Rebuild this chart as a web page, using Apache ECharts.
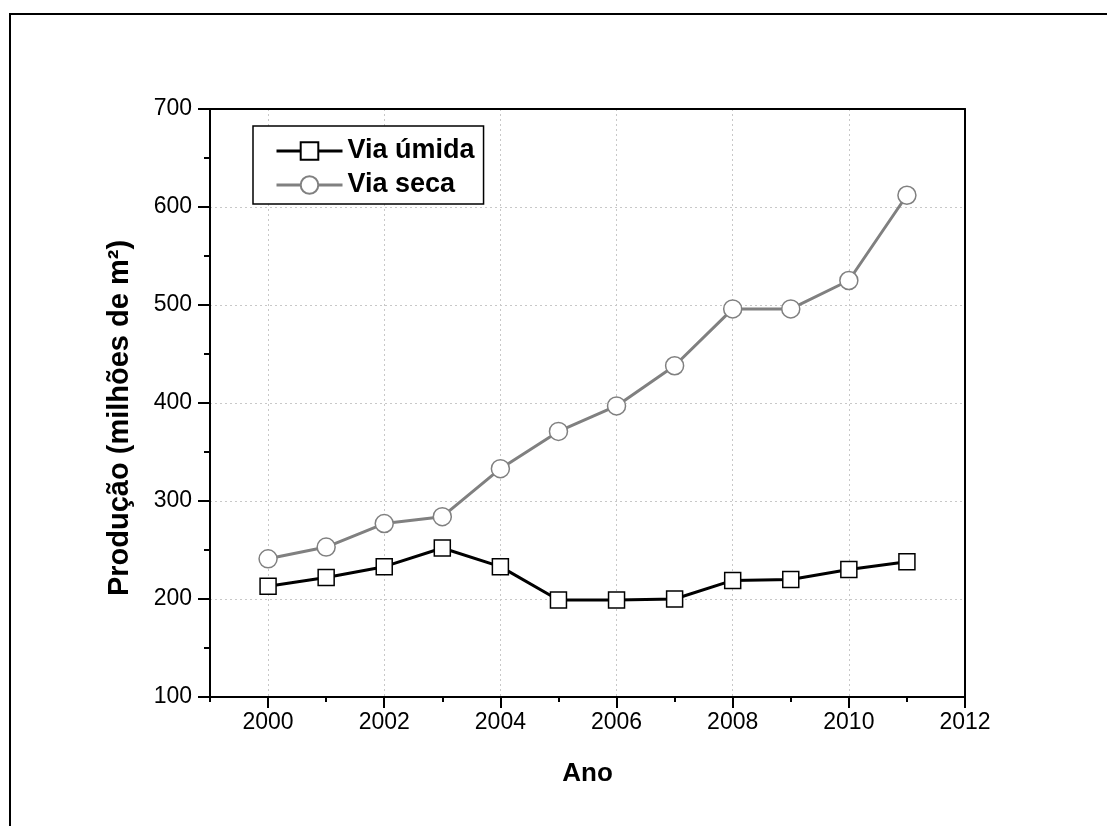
<!DOCTYPE html>
<html>
<head>
<meta charset="utf-8">
<script src="https://cdn.jsdelivr.net/npm/echarts@6/dist/echarts.min.js"></script>
<style>
html,body{margin:0;padding:0;background:#fff;}
#c{width:1107px;height:826px;}
</style>
</head>
<body>
<div id="c"></div>
<script>
const years = [2000,2001,2002,2003,2004,2005,2006,2007,2008,2009,2010,2011];
const viaUmida = [213,222,233,252,233,199,199,200,219,220,230,238];
const viaSeca = [241,253,277,284,333,371,397,438,496,496,525,612];
const xMajorTicks = [2000,2002,2004,2006,2008,2010,2012];
const xMinorTicks = [1999,2001,2003,2005,2007,2009,2011];
const seriesNames = ['Via úmida','Via seca'];
const xName = 'Ano';
const yName = 'Produção (milhões de m²)';

const FONT = '"Liberation Sans", Arial, sans-serif';
const chart = echarts.init(document.getElementById('c'), null, {renderer:'canvas'});
const gridLine = {show:true, lineStyle:{color:'#c8c8c8', type:[2,3], width:1}};
const frameAxis = {
  axisLine:{show:true, onZero:false, lineStyle:{color:'#000', width:2}},
  axisTick:{show:false}, axisLabel:{show:false}, splitLine:{show:false}, z:10
};

chart.setOption({
  animation:false,
  backgroundColor:'#fff',
  graphic:[{
    type:'rect', z:-1, silent:true,
    shape:{x:10, y:14, width:1200, height:1000},
    style:{fill:null, stroke:'#000', lineWidth:2}
  }],
  grid:{left:210, top:109, right:142, bottom:129},
  legend:{
    orient:'vertical', left:253, top:126, z:20,
    backgroundColor:'#fff',
    borderColor:'#000', borderWidth:1.5,
    padding:[11,9,5,22],
    itemWidth:66, itemHeight:22, itemGap:6,
    lineStyle:{width:3},
    textStyle:{fontFamily:FONT, fontWeight:'bold', fontSize:27, color:'#000', lineHeight:28},
    data:seriesNames
  },
  xAxis:[{
    type:'value', min:1999, max:2012,
    name:xName, nameLocation:'middle', nameGap:64,
    nameTextStyle:{fontFamily:FONT, fontWeight:'bold', fontSize:26, color:'#000'},
    axisLine:{show:true, onZero:false, lineStyle:{color:'#000', width:2}},
    axisTick:{show:true, length:11, lineStyle:{color:'#000', width:2}, customValues:xMajorTicks},
    axisLabel:{fontFamily:FONT, fontSize:23, color:'#000', margin:14, customValues:xMajorTicks, formatter:v=>String(v)},
    splitLine:gridLine
  },{
    type:'value', min:1999, max:2012, position:'bottom',
    axisLine:{show:false},
    axisTick:{show:true, length:5, lineStyle:{color:'#000', width:2}, customValues:xMinorTicks},
    axisLabel:{show:false},
    splitLine:{show:false}
  }, Object.assign({type:'value', min:1999, max:2012, position:'top'}, frameAxis)],
  yAxis:[{
    type:'value', min:100, max:700, interval:100,
    name:yName, nameLocation:'middle', nameGap:76,
    nameTextStyle:{fontFamily:FONT, fontWeight:'bold', fontSize:29, color:'#000', padding:[0,30,0,0]},
    axisLine:{show:true, onZero:false, lineStyle:{color:'#000', width:2}},
    axisTick:{show:true, length:12, lineStyle:{color:'#000', width:2}},
    minorTick:{show:true, splitNumber:2, length:6, lineStyle:{color:'#000', width:2}},
    axisLabel:{fontFamily:FONT, fontSize:23, color:'#000', margin:18},
    splitLine:gridLine
  }, Object.assign({type:'value', min:100, max:700, position:'right'}, frameAxis)],
  series:[{
    name:seriesNames[0], type:'line', xAxisIndex:0, yAxisIndex:0,
    data:years.map((y,i)=>[y, viaUmida[i]]),
    symbol:'rect', symbolSize:16,
    lineStyle:{color:'#000', width:3},
    itemStyle:{color:'#fff', borderColor:'#000', borderWidth:1.5},
    z:3
  },{
    name:seriesNames[1], type:'line', xAxisIndex:0, yAxisIndex:0,
    data:years.map((y,i)=>[y, viaSeca[i]]),
    symbol:'circle', symbolSize:18,
    lineStyle:{color:'#808080', width:3},
    itemStyle:{color:'#fff', borderColor:'#808080', borderWidth:1.5},
    z:2
  }]
});
</script>
</body>
</html>
